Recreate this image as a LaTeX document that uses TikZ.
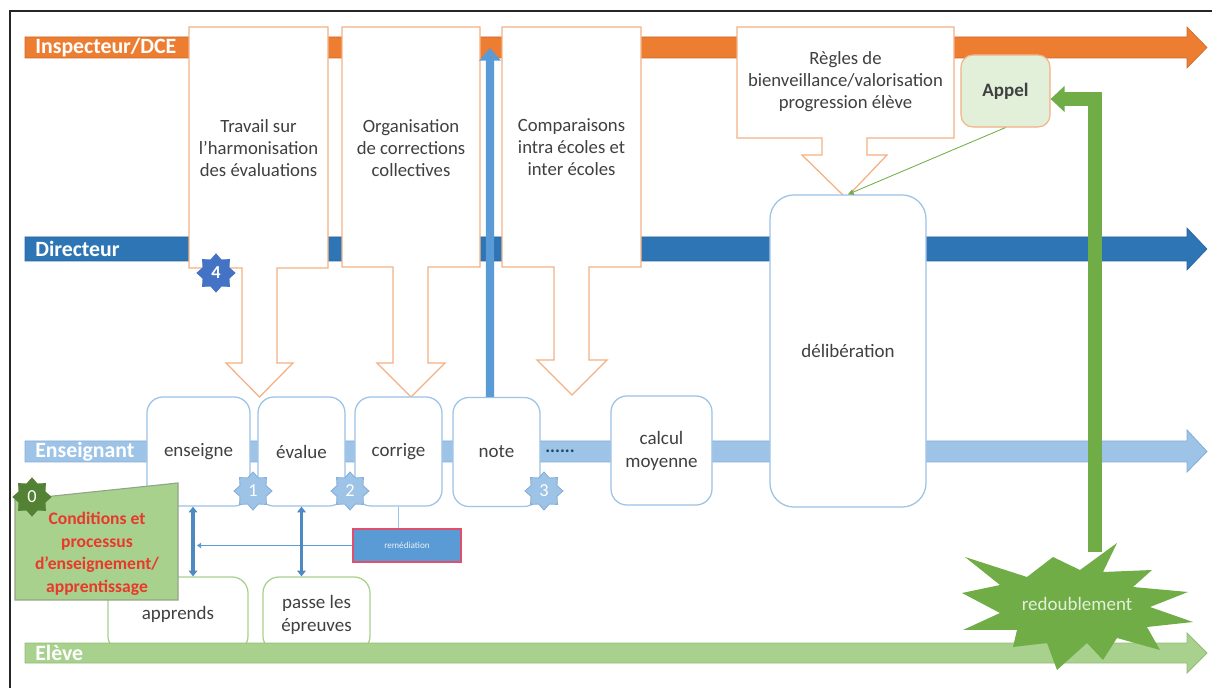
\documentclass[tikz,border=0pt]{standalone}
\usepackage{fontspec}
\setmainfont{Carlito}
\usetikzlibrary{shapes.geometric,arrows.meta,calc}
\definecolor{orangeL}{HTML}{ED7D31}
\definecolor{dirB}{HTML}{2E75B6}
\definecolor{ensB}{HTML}{9DC3E6}
\definecolor{ensBd}{HTML}{86AED8}
\definecolor{eleG}{HTML}{A9D18E}
\definecolor{eleGd}{HTML}{93BC78}
\definecolor{callO}{HTML}{F4B183}
\definecolor{txt}{HTML}{404040}
\definecolor{grn}{HTML}{70AD47}
\definecolor{dgrn}{HTML}{548235}
\definecolor{midB}{HTML}{5B9BD5}
\definecolor{starB}{HTML}{4472C4}
\definecolor{redT}{HTML}{E8392B}
\definecolor{lgrn}{HTML}{E2F0D9}
\definecolor{pinkB}{HTML}{E0506A}
\newcommand\lanearrow[5]{%
  \filldraw[#5] (25,#1) -- (1187,#1) -- (1187,#3) -- (1207,{(#1+#2)/2}) -- (1187,#4) -- (1187,#2) -- (25,#2) -- cycle;}
\begin{document}
\begin{tikzpicture}[x=0.025cm,y=-0.025cm,
  lanelabel/.style={anchor=west,text=white,font=\fontsize{15.5}{17}\selectfont\bfseries,inner sep=0},
  calltext/.style={align=center,text=txt,font=\fontsize{13.3}{15.6}\selectfont},
  callbox/.style={draw=callO,fill=white,line width=0.9pt},
  bbox/.style={draw=ensB,fill=white,rounded corners=0.4cm,line width=0.9pt,inner sep=0,align=center,text=txt,font=\fontsize{13.5}{16.4}\selectfont},
  gbox/.style={bbox,draw=eleG},
  numstar/.style={star,star points=8,star point ratio=1.35,minimum size=0.95cm,inner sep=0,font=\fontsize{13}{13}\selectfont,text=white,line width=0.6pt},
  dbl/.style={draw=dirB!85!white,line width=2.2pt,{Triangle[width=6pt,length=4pt]}-{Triangle[width=6pt,length=4pt]}}
]
\useasboundingbox (0,0) rectangle (1212,688);
% frame
\draw[line width=1.5pt,black!85] (10,688) -- (10,11) -- (1212,11);

% lanes
\lanearrow{37}{58}{27}{68}{fill=orangeL,draw=orangeL!85!black,line width=0.4pt}
\lanearrow{237}{261}{228}{270}{fill=dirB,draw=dirB!85!black,line width=0.4pt}
\lanearrow{441}{462}{430}{472}{fill=ensB,draw=ensBd,line width=0.6pt}
\node[lanelabel] (lInsp) at (35,47.5) {Inspecteur/DCE};
\node[lanelabel] (lDir) at (35,249) {Directeur};
\node[lanelabel] (lEns) at (35,451.5) {Enseignant};

% callouts
\filldraw[callbox] (189,27) -- (328,27) -- (328,268) -- (277,268) -- (277,363) -- (293,363) -- (259.5,397) -- (226,363) -- (242,363) -- (242,268) -- (189,268) -- cycle;
\node[calltext] (c1) at (258.5,148) {Travail sur\\l’harmonisation\\des évaluations};
\filldraw[callbox] (342,27) -- (480,27) -- (480,267) -- (428,267) -- (428,363) -- (445,363) -- (411,397) -- (377,363) -- (393,363) -- (393,267) -- (342,267) -- cycle;
\node[calltext] (c2) at (411,148) {Organisation\\de corrections\\collectives};
\filldraw[callbox] (502,27) -- (641,27) -- (641,267) -- (589,267) -- (589,360) -- (607,360) -- (572,395) -- (537,360) -- (554,360) -- (554,267) -- (502,267) -- cycle;
\node[calltext] (c3) at (571.5,147) {Comparaisons\\intra écoles et\\inter écoles};
\filldraw[callbox] (737,27) -- (954,27) -- (954,138) -- (867,138) -- (867,155) -- (887,155) -- (846,198) -- (802,155) -- (822,155) -- (822,138) -- (737,138) -- cycle;
\node[calltext] (c4) at (845.5,82) {Règles de\\bienveillance/valorisation\\progression élève};

% teacher row boxes
\node[bbox,minimum width=2.575cm,minimum height=2.725cm] (enseigne) at (198.5,451.5) {enseigne};
\node[bbox,minimum width=2.175cm,minimum height=2.725cm] (evalue) at (301.5,451.5) {évalue};
\node[bbox,minimum width=2.175cm,minimum height=2.725cm] (corrige) at (398.5,451.5) {corrige};
\node[bbox,minimum width=2.175cm,minimum height=2.725cm] (note) at (496.5,452) {note};
\node[bbox,minimum width=2.525cm,minimum height=2.725cm] (calcul) at (661.5,450.5) {calcul\\moyenne};
\node[bbox,minimum width=3.9cm,minimum height=7.8cm,rounded corners=0.6cm] (delib) at (848,351) {délibération};
\node[text=dirB!60!black,font=\fontsize{13}{13}\selectfont\bfseries,inner sep=0] (dots) at (560,451) {......};

% note arrow up
\coordinate (n1) at ([xshift=-0.1625cm]note.north);
\coordinate (ntop) at (490,48);
\draw[midB,line width=5.8pt,-{Triangle[width=15pt,length=9pt]}] (n1) -- (ntop);

% Appel
\node[draw=callO,fill=lgrn,rounded corners=0.3cm,minimum width=2.225cm,minimum height=1.8cm,inner sep=0,line width=0.8pt,text=txt,font=\fontsize{13.5}{13.5}\selectfont\bfseries] (appel) at (1005.5,91) {Appel};
\draw[grn,line width=0.6pt,-{Triangle[width=4pt,length=4pt]}] (appel.south) -- (delib.north);

% pupil row boxes
\node[gbox,minimum width=3.5cm,minimum height=1.875cm] (apprends) at (178,614.5) {apprends};
\node[gbox,minimum width=2.675cm,minimum height=1.875cm] (passe) at (316.5,614.5) {passe les\\épreuves};
\lanearrow{643}{663}{633}{673}{fill=eleG,draw=eleGd,line width=0.6pt}
\node[lanelabel] (lEle) at (35,653) {Elève};

% remediation
\node[fill=midB,draw=pinkB,line width=0.9pt,minimum width=2.7cm,minimum height=0.825cm,inner sep=0,text=white!85!midB,font=\fontsize{6.5}{7}\selectfont] (remed) at (407,545.5) {remédiation};
\draw[ensB,line width=0.8pt] (corrige.south) -- (corrige.south |- remed.north);
\coordinate (d1) at ([xshift=-0.1375cm]enseigne.south);
\coordinate (rl) at (remed.west -| d1);
\draw[midB,line width=0.6pt,-{Triangle[width=4pt,length=3pt]}] (remed.west) -- ([xshift=0.1cm]rl);
\draw[dbl] (d1) -- (d1 |- apprends.north);
\draw[dbl] (evalue.south) -- (evalue.south |- passe.north);

% conditions
\filldraw[fill=eleG,draw=gray!55!eleG,line width=0.8pt] (15,500) -- (178,483) -- (178,600) -- (15,600) -- cycle;
\node[align=center,text=redT,font=\fontsize{12.5}{16}\selectfont\bfseries] (cond) at (97,554) {Conditions et\\processus\\d’enseignement/\\apprentissage};

% numbered stars
\node[numstar,fill=ensB,draw=ensBd] (s1) at (253,491) {1};
\node[numstar,fill=ensB,draw=ensBd] (s2) at (350,491) {2};
\node[numstar,fill=ensB,draw=ensBd] (s3) at (544,491) {3};
\node[numstar,fill=starB,draw=starB,font=\fontsize{13}{13}\selectfont\bfseries] (s4) at (216,273) {4};
\node[numstar,fill=dgrn,draw=dgrn] (s0) at (32,497) {0};

% redoublement
\coordinate (redtop) at (1095,552);
\coordinate (apin) at ([yshift=-0.2cm]appel.east);
\draw[grn,line width=10.5pt,line join=miter,-{Triangle[width=18pt,length=10pt]}] (redtop) |- (apin);
\fill[grn] (1117,543) -- (1103,572) -- (1152,570) -- (1133,587) -- (1188,592) -- (1150,607) -- (1193,622) -- (1147,627) -- (1160,650) -- (1117,638) -- (1103,660) -- (1087,643) -- (1057,670) -- (1047,643) -- (1013,647) -- (1017,630) -- (963,630) -- (1000,613) -- (962,593) -- (1000,585) -- (965,557) -- (1027,577) -- (1053,557) -- (1080,570) -- cycle;
\node[text=lgrn,font=\fontsize{13.5}{14}\selectfont] (redoub) at (1077,604) {redoublement};
\end{tikzpicture}
\end{document}
